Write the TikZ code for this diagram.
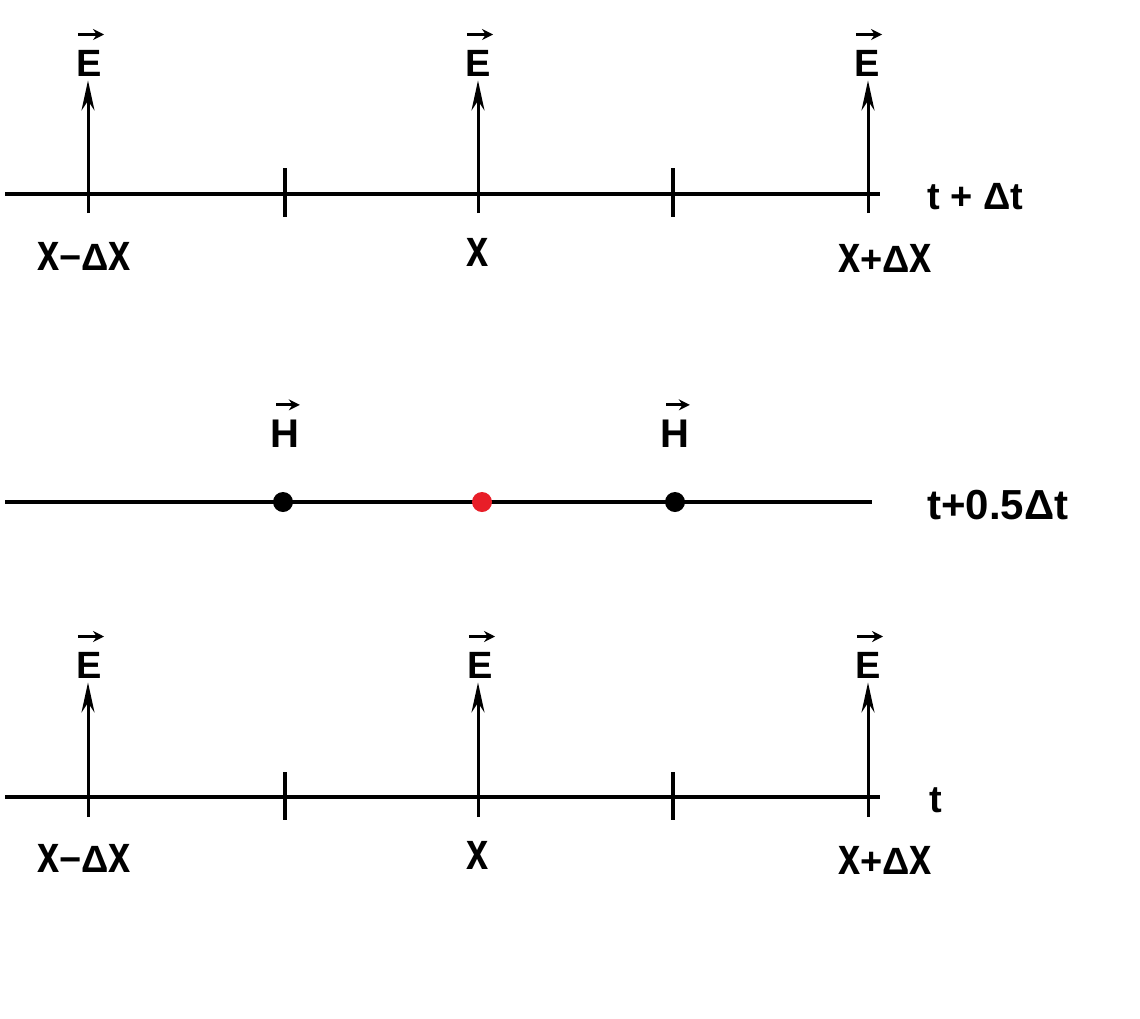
\documentclass[tikz,border=0pt]{standalone}
\usepackage{fontspec}
\usepackage{graphicx}
\setmainfont{Liberation Sans}
\usetikzlibrary{arrows.meta}
\definecolor{dotred}{RGB}{232,30,40}
\newcommand{\xq}{\scalebox{1.05}[1.4]{x}}
\tikzset{
  axisline/.style={line width=1.9pt},
  tickmark/.style={line width=1.6pt},
  fieldarrow/.style={line width=1.5pt, -{Stealth[length=15pt,width=6.5pt]}, shorten >=2pt},
  vecarrow/.style={line width=1.4pt, -{Stealth[length=5.5pt,width=5.5pt]}},
  lbl/.style={font=\fontsize{19}{22}\selectfont\bfseries, inner sep=0pt},
  fld/.style={font=\fontsize{19}{24}\selectfont\bfseries, inner sep=0pt},
  hfld/.style={font=\fontsize{20}{24}\selectfont\bfseries, inner sep=0pt},
  gridpt/.style={circle, fill=black, inner sep=0pt, minimum size=10pt},
}
\begin{document}
\begin{tikzpicture}[x=0.5pt,y=-0.5pt]
\useasboundingbox (0,0) rectangle (1140,1018);
% ---------- top row (t + dt)
\coordinate (ta0) at (5,194);
\coordinate (ta1) at (880,194);
\draw[axisline] (ta0) -- (ta1);
\coordinate (tk1a) at (285,168); \coordinate (tk1b) at (285,217);
\coordinate (tk2a) at (673,168); \coordinate (tk2b) at (673,217);
\draw[tickmark] (tk1a) -- (tk1b);
\draw[tickmark] (tk2a) -- (tk2b);
\node[fld] (tE1) at (89,63) {E};
\node[fld] (tE2) at (478,63) {E};
\node[fld] (tE3) at (867,63) {E};
\coordinate (tb1) at (88,213);
\coordinate (tb2) at (478,213);
\coordinate (tb3) at (868,213);
\draw[fieldarrow] (tb1) -- (tb1 |- tE1.south);
\draw[fieldarrow] (tb2) -- (tb2 |- tE2.south);
\draw[fieldarrow] (tb3) -- (tb3 |- tE3.south);
\foreach \n in {tE1,tE2,tE3}{
  \draw[vecarrow] ([xshift=1pt,yshift=7.5pt]\n.north west) -- ([xshift=1pt,yshift=7.5pt]\n.north east);
}
\node[lbl] (tl1) at (84,256) {\xq−Δ\xq};
\node[lbl] (tl2) at (478,252) {\xq};
\node[lbl] (tl3) at (885,258) {\xq+Δ\xq};
\node[lbl, anchor=west] (tt) at (927,197) {t + Δt};
% ---------- middle row (t + 0.5 dt)
\coordinate (ma0) at (5,502);
\coordinate (ma1) at (872,502);
\draw[axisline] (ma0) -- (ma1);
\node[gridpt] (h1) at (283,502) {};
\node[gridpt, fill=dotred] (hc) at (482,502) {};
\node[gridpt] (h2) at (675,502) {};
\node[hfld] (H1) at (285,434) {H};
\node[hfld] (H2) at (675,434) {H};
\foreach \n in {H1,H2}{
  \draw[vecarrow] ([xshift=3pt,yshift=7.5pt]\n.north west) -- ([xshift=0pt,yshift=7.5pt]\n.north east);
}
\node[lbl, anchor=west, font=\fontsize{21}{24}\selectfont\bfseries] (tm) at (927,505) {t+0.5Δt};
% ---------- bottom row (t)
\coordinate (ba0) at (5,797);
\coordinate (ba1) at (880,797);
\draw[axisline] (ba0) -- (ba1);
\coordinate (bk1a) at (285,772); \coordinate (bk1b) at (285,820);
\coordinate (bk2a) at (673,772); \coordinate (bk2b) at (673,820);
\draw[tickmark] (bk1a) -- (bk1b);
\draw[tickmark] (bk2a) -- (bk2b);
\node[fld] (bE1) at (89,665) {E};
\node[fld] (bE2) at (480,665) {E};
\node[fld] (bE3) at (868,665) {E};
\coordinate (bb1) at (88,817);
\coordinate (bb2) at (478,817);
\coordinate (bb3) at (868,817);
\draw[fieldarrow] (bb1) -- (bb1 |- bE1.south);
\draw[fieldarrow] (bb2) -- (bb2 |- bE2.south);
\draw[fieldarrow] (bb3) -- (bb3 |- bE3.south);
\foreach \n in {bE1,bE2,bE3}{
  \draw[vecarrow] ([xshift=1pt,yshift=7.5pt]\n.north west) -- ([xshift=1pt,yshift=7.5pt]\n.north east);
}
\node[lbl] (bl1) at (84,858) {\xq−Δ\xq};
\node[lbl] (bl2) at (478,855) {\xq};
\node[lbl] (bl3) at (885,860) {\xq+Δ\xq};
\node[lbl, anchor=west] (bt) at (929,800) {t};
\end{tikzpicture}
\end{document}
